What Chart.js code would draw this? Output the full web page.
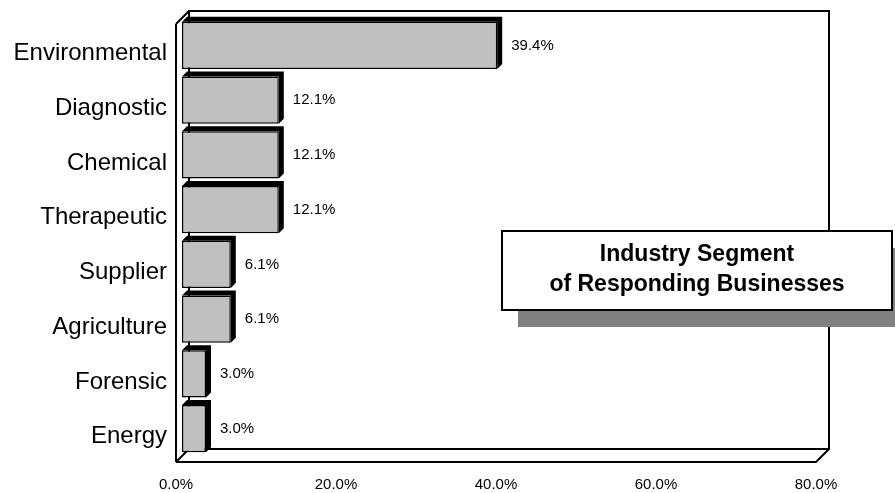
<!DOCTYPE html>
<html>
<head>
<meta charset="utf-8">
<script src="https://cdn.jsdelivr.net/npm/chart.js@4/dist/chart.umd.min.js"></script>
<style>
  html, body { margin: 0; padding: 0; background: #fff; }
  #wrap { width: 895px; height: 493px; position: relative; }
</style>
</head>
<body>
<div id="wrap"><canvas id="segments"></canvas></div>
<script>
const segments = ['Environmental', 'Diagnostic', 'Chemical', 'Therapeutic', 'Supplier', 'Agriculture', 'Forensic', 'Energy'];
const shares = [39.4, 12.1, 12.1, 12.1, 6.1, 6.1, 3.0, 3.0];
const pctTicks = [0, 20, 40, 60, 80];
const titleLines = ['Industry Segment', 'of Responding Businesses'];

const FONT = '"Liberation Sans", Arial, Helvetica, sans-serif';
const WALL = 13;   // depth of the box
const SHIFT = 6;   // bars sit halfway into the box
const BAR_D = 5;   // depth of each bar

// back wall, side wall and floor of the 3D box
const boxFrame = {
  id: 'boxFrame',
  beforeDatasetsDraw(chart) {
    const { ctx, chartArea: a } = chart;
    ctx.save();
    ctx.strokeStyle = '#000';
    ctx.lineWidth = 2;
    ctx.beginPath();
    ctx.rect(a.left + WALL, a.top - WALL, a.right - a.left, a.bottom - a.top);
    // side wall
    ctx.moveTo(a.left, a.top); ctx.lineTo(a.left + WALL, a.top - WALL);
    ctx.moveTo(a.left, a.top); ctx.lineTo(a.left, a.bottom);
    ctx.moveTo(a.left, a.bottom); ctx.lineTo(a.left + WALL, a.bottom - WALL);
    // floor
    ctx.moveTo(a.left, a.bottom); ctx.lineTo(a.right, a.bottom);
    ctx.lineTo(a.right + WALL, a.bottom - WALL);
    ctx.stroke();
    ctx.restore();
  }
};

// push bars back into the box and give them a dark top and side
const bars3d = {
  id: 'bars3d',
  beforeDatasetDraw(chart) {
    chart.ctx.save();
    chart.ctx.translate(SHIFT, -SHIFT);
  },
  afterDatasetDraw(chart, args) {
    const ctx = chart.ctx;
    args.meta.data.forEach((bar, i) => {
      const { x, y, base, height } = bar.getProps(['x', 'y', 'base', 'height'], true);
      const top = y - height / 2, bot = y + height / 2;
      ctx.fillStyle = '#000';
      ctx.beginPath();
      ctx.moveTo(base, top);
      ctx.lineTo(base + BAR_D, top - BAR_D);
      ctx.lineTo(x + BAR_D, top - BAR_D);
      ctx.lineTo(x + BAR_D, bot - BAR_D);
      ctx.lineTo(x, bot);
      ctx.lineTo(x, top);
      ctx.closePath();
      ctx.fill();

      ctx.font = '15px ' + FONT;
      ctx.textAlign = 'left';
      ctx.textBaseline = 'middle';
      ctx.fillText(shares[i].toFixed(1) + '%', x + BAR_D + 9, y);
    });
    ctx.restore();
  }
};

// title box with drop shadow
const titleBox = {
  id: 'titleBox',
  afterDraw(chart) {
    const ctx = chart.ctx;
    const bx = 502, by = 231, bw = 390, bh = 79;
    ctx.save();
    ctx.fillStyle = '#808080';
    ctx.fillRect(bx + 16, by + 17, bw, bh);
    ctx.fillStyle = '#fff';
    ctx.fillRect(bx, by, bw, bh);
    ctx.strokeStyle = '#000';
    ctx.lineWidth = 2;
    ctx.strokeRect(bx, by, bw, bh);
    ctx.fillStyle = '#000';
    ctx.font = 'bold 23px ' + FONT;
    ctx.textAlign = 'center';
    ctx.textBaseline = 'middle';
    titleLines.forEach((t, i) => ctx.fillText(t, bx + bw / 2, by + 24 + i * 30));
    ctx.restore();
  }
};

new Chart(document.getElementById('segments'), {
  type: 'bar',
  data: {
    labels: segments,
    datasets: [{
      data: shares,
      backgroundColor: '#c0c0c0',
      borderColor: '#000',
      borderWidth: 1.5,
      borderSkipped: false,
      categoryPercentage: 1,
      barPercentage: 0.86,
    }],
  },
  options: {
    indexAxis: 'y',
    responsive: true,
    maintainAspectRatio: false,
    animation: false,
    layout: { padding: { top: 24, right: 79, bottom: 0, left: 0 } },
    plugins: { legend: { display: false }, tooltip: { enabled: false } },
    scales: {
      x: {
        min: 0,
        max: 80,
        afterBuildTicks: (s) => { s.ticks = pctTicks.map(v => ({ value: v })); },
        afterFit: (s) => { s.height = 31; },
        grid: { display: false, drawTicks: false },
        border: { display: false },
        ticks: {
          color: '#000',
          padding: 14,
          font: { size: 15, family: FONT },
          callback: (v) => v.toFixed(1) + '%',
        },
      },
      y: {
        afterFit: (s) => { s.width = 176; },
        grid: { display: false, drawTicks: false },
        border: { display: false },
        ticks: {
          color: '#000',
          padding: 9,
          labelOffset: 2,
          font: { size: 24, family: FONT },
        },
      },
    },
  },
  plugins: [boxFrame, bars3d, titleBox],
});
</script>
</body>
</html>
